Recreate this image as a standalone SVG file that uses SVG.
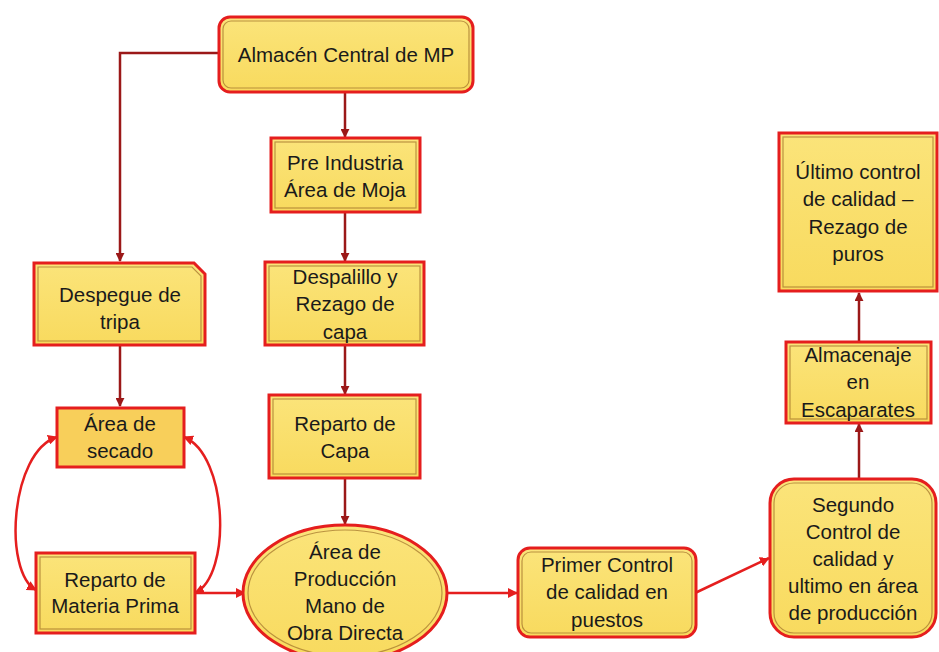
<svg xmlns="http://www.w3.org/2000/svg" width="939" height="652" viewBox="0 0 939 652">
<defs>
<linearGradient id="g" x1="0" y1="0" x2="0" y2="1">
<stop offset="0" stop-color="#FBE47A"/>
<stop offset="1" stop-color="#F8DA5E"/>
</linearGradient>
<marker id="ad" viewBox="0 0 10 10" refX="9" refY="5" markerWidth="9" markerHeight="9" markerUnits="userSpaceOnUse" orient="auto-start-reverse">
<path d="M0,0 L10,5 L0,10 z" fill="#9B1818"/>
</marker>
<marker id="ar" viewBox="0 0 10 10" refX="9" refY="5" markerWidth="10" markerHeight="10" markerUnits="userSpaceOnUse" orient="auto-start-reverse">
<path d="M0,0 L10,5 L0,10 z" fill="#E51E1E"/>
</marker>
</defs>
<style>
.box{fill:url(#g);stroke:#E51E1E;stroke-width:3}
.inner{fill:none;stroke:#A0702A;stroke-width:1.2;opacity:0.7}
.dk{fill:none;stroke:#9B1818;stroke-width:2.5}
.rd{fill:none;stroke:#E51E1E;stroke-width:2.5}
text{font-family:"Liberation Sans",Arial,sans-serif;font-size:20.5px;fill:#1a1a1a;text-anchor:middle}
</style>
<rect width="939" height="652" fill="#ffffff"/>
<g id="connectors">
<path class="dk" d="M219,53 H120 V261" marker-end="url(#ad)"/>
<path class="dk" d="M120,345 V406" marker-end="url(#ad)"/>
<path class="dk" d="M345,92 V137" marker-end="url(#ad)"/>
<path class="dk" d="M345,212 V261" marker-end="url(#ad)"/>
<path class="dk" d="M345,345 V394" marker-end="url(#ad)"/>
<path class="dk" d="M345,478 V524" marker-end="url(#ad)"/>
<path class="rd" d="M57,437 C10,452 3,572 36,590" marker-start="url(#ar)" marker-end="url(#ar)"/>
<path class="rd" d="M184,437 C228,455 232,575 195,593" marker-start="url(#ar)" marker-end="url(#ar)"/>
<path class="rd" d="M195,593 H245" marker-end="url(#ar)"/>
<path class="rd" d="M447,593 H517" marker-end="url(#ar)"/>
<path class="rd" d="M695,593 L769,558" marker-end="url(#ar)"/>
<path class="dk" d="M859,478 V424" marker-end="url(#ad)"/>
<path class="dk" d="M859,342 V293" marker-end="url(#ad)"/>
</g>
<g id="almacen-central">
<rect class="box" x="219" y="17" width="254" height="75" rx="11"/>
<rect class="inner" x="223" y="21" width="246" height="67" rx="8"/>
<text x="346" y="62">Almacén Central de MP</text>
</g>
<g id="pre-industria">
<rect class="box" x="271" y="138" width="149" height="74"/>
<rect class="inner" x="275" y="142" width="141" height="66"/>
<text x="345" y="170">Pre Industria</text>
<text x="345" y="197">Área de Moja</text>
</g>
<g id="despalillo">
<rect class="box" x="265" y="262" width="159" height="83"/>
<rect class="inner" x="269" y="266" width="151" height="75"/>
<text x="345" y="284">Despalillo y</text>
<text x="345" y="311">Rezago de</text>
<text x="345" y="339">capa</text>
</g>
<g id="reparto-capa">
<rect class="box" x="269" y="395" width="151" height="83"/>
<rect class="inner" x="273" y="399" width="143" height="75"/>
<text x="345" y="431">Reparto de</text>
<text x="345" y="458">Capa</text>
</g>
<g id="despegue">
<path class="box" d="M34,263 H194 L205,274 V345 H34 Z"/>
<path class="inner" d="M38,267 H192 L201,276 V341 H38 Z"/>
<text x="120" y="302">Despegue de</text>
<text x="120" y="329">tripa</text>
</g>
<g id="area-secado">
<rect x="57" y="408" width="127" height="59" fill="#F8CF5A" stroke="#E51E1E" stroke-width="3"/>
<text x="120" y="431">Área de</text>
<text x="120" y="458">secado</text>
</g>
<g id="reparto-mp">
<rect class="box" x="36" y="553" width="159" height="80"/>
<rect class="inner" x="40" y="557" width="151" height="72"/>
<text x="115" y="587">Reparto de</text>
<text x="115" y="613">Materia Prima</text>
</g>
<g id="area-produccion">
<ellipse class="box" cx="345" cy="593" rx="102" ry="68"/>
<ellipse class="inner" cx="345" cy="593" rx="97" ry="63"/>
<text x="345" y="559">Área de</text>
<text x="345" y="586">Producción</text>
<text x="345" y="613">Mano de</text>
<text x="345" y="640">Obra Directa</text>
</g>
<g id="primer-control">
<rect class="box" x="518" y="548" width="178" height="89" rx="12"/>
<rect class="inner" x="522" y="552" width="170" height="81" rx="9"/>
<text x="607" y="572">Primer Control</text>
<text x="607" y="599">de calidad en</text>
<text x="607" y="627">puestos</text>
</g>
<g id="segundo-control">
<rect class="box" x="770" y="479" width="166" height="158" rx="24"/>
<rect class="inner" x="774" y="483" width="158" height="150" rx="20"/>
<text x="853" y="512">Segundo</text>
<text x="853" y="539">Control de</text>
<text x="853" y="566">calidad y</text>
<text x="853" y="593">ultimo en área</text>
<text x="853" y="620">de producción</text>
</g>
<g id="almacenaje">
<rect class="box" x="786" y="342" width="145" height="81"/>
<rect class="inner" x="790" y="346" width="137" height="73"/>
<text x="858" y="362">Almacenaje</text>
<text x="858" y="389">en</text>
<text x="858" y="417">Escaparates</text>
</g>
<g id="ultimo-control">
<rect class="box" x="779" y="133" width="158" height="158"/>
<rect class="inner" x="783" y="137" width="150" height="150"/>
<text x="858" y="179">Último control</text>
<text x="858" y="206">de calidad –</text>
<text x="858" y="234">Rezago de</text>
<text x="858" y="261">puros</text>
</g>
</svg>
